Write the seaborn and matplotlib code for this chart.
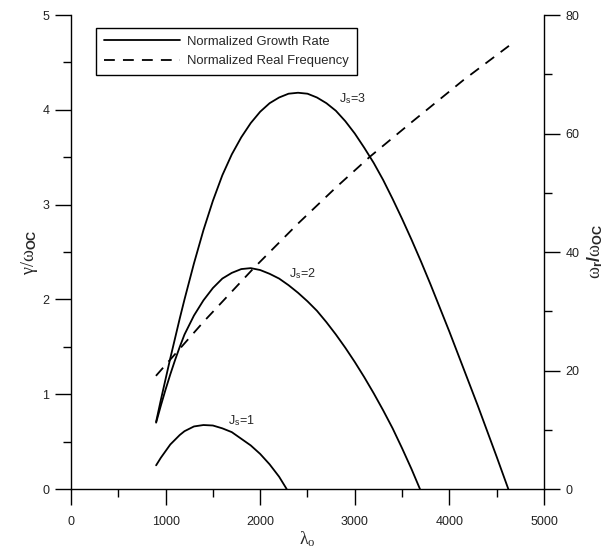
import matplotlib
matplotlib.use("Agg")
import matplotlib.pyplot as plt
import seaborn as sns

# values
# growth rate curves (gamma / omega_oc) against lambda_o
lam_j1 = [900, 950, 1000, 1050, 1100, 1150, 1200, 1300, 1400, 1500, 1600, 1700,
          1800, 1900, 2000, 2100, 2200, 2280]
gam_j1 = [0.25, 0.33, 0.40, 0.47, 0.52, 0.57, 0.61, 0.66, 0.675, 0.67, 0.64, 0.60,
          0.53, 0.46, 0.37, 0.26, 0.13, 0.0]

lam_j2 = [900, 950, 1000, 1050, 1100, 1150, 1200, 1300, 1400, 1500, 1600, 1700,
          1800, 1900, 2000, 2100, 2200, 2300, 2400, 2500, 2600, 2700, 2800, 2900,
          3000, 3100, 3200, 3300, 3400, 3500, 3600, 3689]
gam_j2 = [0.70, 0.88, 1.05, 1.21, 1.36, 1.50, 1.63, 1.83, 1.99, 2.12, 2.22, 2.28,
          2.32, 2.33, 2.31, 2.27, 2.22, 2.15, 2.07, 1.98, 1.88, 1.76, 1.63, 1.49,
          1.34, 1.18, 1.01, 0.83, 0.64, 0.43, 0.21, 0.0]

lam_j3 = [900, 950, 1000, 1050, 1100, 1150, 1200, 1250, 1300, 1400, 1500, 1600,
          1700, 1800, 1900, 2000, 2100, 2200, 2300, 2400, 2500, 2600, 2700, 2800,
          2900, 3000, 3100, 3200, 3300, 3400, 3500, 3600, 3700, 3800, 3900, 4000,
          4100, 4200, 4300, 4400, 4500, 4623]
gam_j3 = [0.71, 0.94, 1.16, 1.38, 1.59, 1.80, 2.00, 2.19, 2.38, 2.73, 3.04, 3.31,
          3.53, 3.71, 3.86, 3.98, 4.07, 4.13, 4.17, 4.18, 4.17, 4.13, 4.07, 3.99,
          3.88, 3.75, 3.60, 3.44, 3.26, 3.06, 2.85, 2.63, 2.40, 2.16, 1.91, 1.66,
          1.40, 1.14, 0.88, 0.61, 0.34, 0.0]

# real frequency (omega_r / omega_oc), right axis
lam_fr = [898, 1400, 1927, 2400, 2808, 3161, 3600, 4147, 4630]
omg_fr = [19.1, 28.2, 37.2, 44.8, 51.0, 56.1, 61.9, 69.0, 74.8]

curve_labels = ["J$_\\mathsf{s}$=1", "J$_\\mathsf{s}$=2", "J$_\\mathsf{s}$=3"]
label_pos = [(1797, 0.72), (2442, 2.27), (2970, 4.12)]

sns.set_style("ticks")
plt.rcParams["font.family"] = ["Liberation Sans", "DejaVu Sans"]
plt.rcParams["mathtext.fontset"] = "custom"
plt.rcParams["mathtext.rm"] = "Liberation Serif"
plt.rcParams["mathtext.it"] = "Liberation Serif:italic"
plt.rcParams["mathtext.bf"] = "Liberation Sans:bold"
plt.rcParams["mathtext.sf"] = "Liberation Sans"

fig = plt.figure(figsize=(6.13, 5.52), dpi=100)
ax = fig.add_axes([0.1158, 0.1141, 0.7716, 0.8587])
ax2 = ax.twinx()

lw = 1.3
sns.lineplot(x=lam_j1, y=gam_j1, ax=ax, color="black", lw=lw, sort=False,
             estimator=None, label="Normalized Growth Rate")
sns.lineplot(x=lam_j2, y=gam_j2, ax=ax, color="black", lw=lw, sort=False,
             estimator=None, legend=False)
sns.lineplot(x=lam_j3, y=gam_j3, ax=ax, color="black", lw=lw, sort=False,
             estimator=None, legend=False)
sns.lineplot(x=lam_fr, y=omg_fr, ax=ax2, color="black", lw=lw, sort=False,
             estimator=None, label="Normalized Real Frequency")
ax2.lines[0].set_dashes((6, 4.5))

for txt, (xp, yp) in zip(curve_labels, label_pos):
    ax.text(xp, yp, txt, fontsize=9, ha="center", va="center")

ax.set_xlim(0, 5000)
ax.set_ylim(0, 5)
ax2.set_ylim(0, 80)
ax.set_xticks(range(0, 5001, 1000))
ax.set_xticks(range(500, 5000, 1000), minor=True)
ax.set_yticks(range(0, 6))
ax.set_yticks([0.5, 1.5, 2.5, 3.5, 4.5], minor=True)
ax2.set_yticks(range(0, 81, 20))
ax2.set_yticks(range(10, 80, 20), minor=True)

for a in (ax, ax2):
    a.tick_params(which="major", direction="out", length=11.5, width=1.0,
                  labelsize=9, color="black", labelcolor="#222222")
    a.tick_params(which="minor", direction="out", length=5.8, width=1.0,
                  color="black")
    for sp in a.spines.values():
        sp.set_linewidth(1.0)
        sp.set_color("black")
ax.tick_params(axis="x", pad=8)
ax.tick_params(axis="y", pad=4)
ax2.tick_params(axis="y", pad=4)

ax.spines["top"].set_visible(False)
ax.spines["right"].set_visible(False)
ax2.spines["top"].set_visible(False)
ax2.spines["left"].set_visible(False)
ax2.spines["bottom"].set_visible(False)

ax.set_xlabel(r"$\mathrm{\lambda}_\mathrm{o}$", fontsize=13, va="center")
ax.xaxis.set_label_coords(0.5, -0.106)
ax.set_ylabel(r"$\mathrm{\gamma/\omega}_{\mathbf{OC}}$", fontsize=13, va="center")
ax.yaxis.set_label_coords(-0.087, 0.5)
ax2.set_ylabel(r"$\mathrm{\omega}_\mathbf{r}\mathbf{/}\mathrm{\omega}_\mathbf{OC}$",
               fontsize=13, rotation=90, labelpad=4)

h1, l1 = ax.get_legend_handles_labels()
h2, l2 = ax2.get_legend_handles_labels()
if ax2.get_legend() is not None:
    ax2.get_legend().remove()
leg = ax.legend(h1 + h2, l1 + l2, loc="upper left", bbox_to_anchor=(0.053, 0.973),
                borderaxespad=0, fancybox=False, edgecolor="black", framealpha=1,
                fontsize=9.4, handlelength=5.8, handletextpad=0.6,
                borderpad=0.6, labelspacing=0.55)
leg.get_frame().set_linewidth(1.0)

fig.savefig("out.png", dpi=100)
